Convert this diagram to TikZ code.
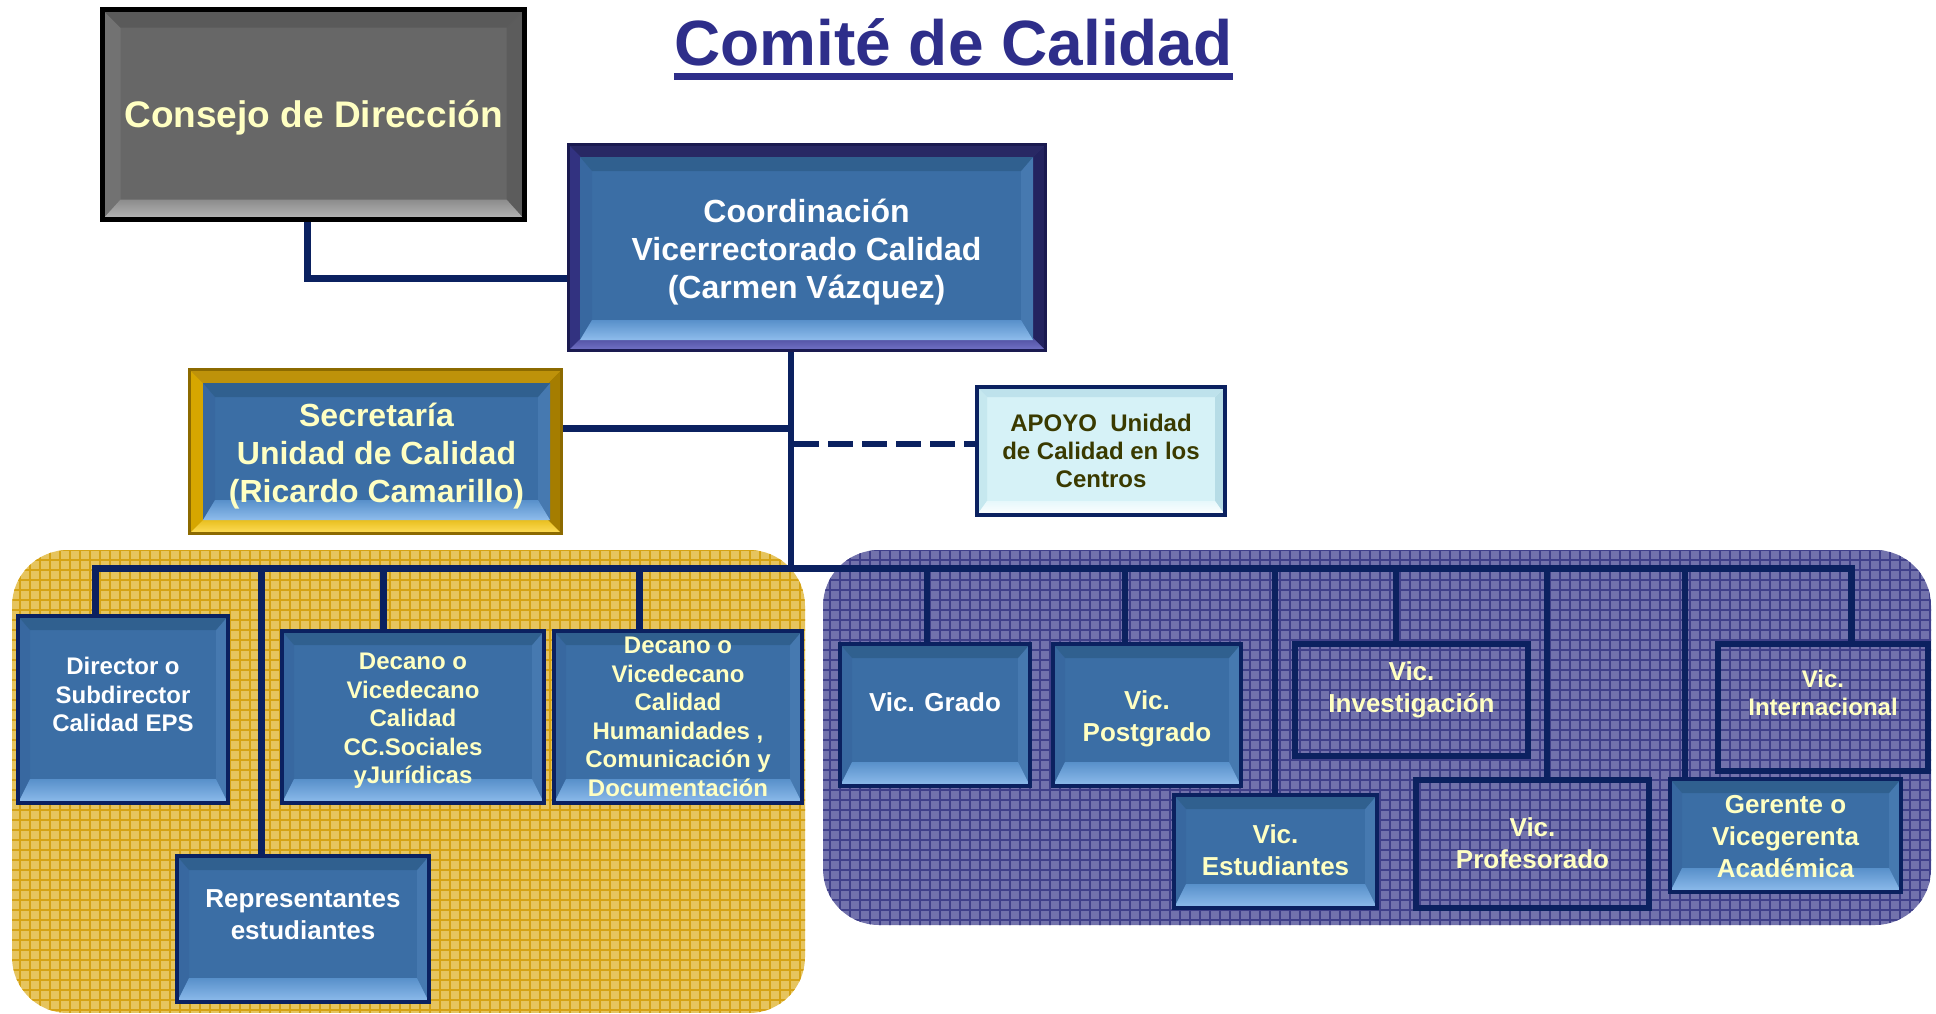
\documentclass[tikz,border=0pt]{standalone}
\usepackage{fontspec}
\setmainfont{Liberation Sans}
\usetikzlibrary{calc}
\definecolor{navy}{HTML}{0B2160}
\definecolor{boxblue}{HTML}{3B6EA5}
\definecolor{bevtop}{HTML}{30608F}
\definecolor{bevleft}{HTML}{3868A0}
\definecolor{bevright}{HTML}{4679B0}
\definecolor{bevbotA}{HTML}{5890CA}
\definecolor{bevbotB}{HTML}{8EBCEC}
\definecolor{paleyel}{HTML}{FFFFC2}
\definecolor{titleblue}{HTML}{2E2E8A}
\definecolor{yelbg}{HTML}{E6C45E}
\definecolor{yelline}{HTML}{D5A214}
\definecolor{purbg}{HTML}{7272AC}
\definecolor{purline}{HTML}{40408A}
\definecolor{apoyofill}{HTML}{D6F2F7}
\definecolor{apoyotext}{HTML}{3A3A00}
\definecolor{grayfill}{HTML}{676767}
\definecolor{graytop}{HTML}{5A5A5A}
\definecolor{graybotA}{HTML}{8C8C8C}
\definecolor{graybotB}{HTML}{B6B6B6}
\definecolor{grayleft}{HTML}{727272}
\definecolor{grayright}{HTML}{5C5C5C}
\definecolor{cframe}{HTML}{2E2E78}
\definecolor{cborder}{HTML}{1A1A50}
\definecolor{ctop}{HTML}{282864}
\definecolor{cbotA}{HTML}{5050A0}
\definecolor{cbotB}{HTML}{7373C8}
\definecolor{cleft}{HTML}{323280}
\definecolor{cright}{HTML}{23235F}
\definecolor{gframe}{HTML}{D0A000}
\definecolor{gborder}{HTML}{8C6A00}
\definecolor{gtop}{HTML}{BE920A}
\definecolor{gbotA}{HTML}{E8BE1E}
\definecolor{gbotB}{HTML}{FFDE5A}
\definecolor{gleft}{HTML}{D6A600}
\definecolor{gright}{HTML}{A57D00}
\definecolor{atop}{HTML}{BEE2EC}
\definecolor{abotA}{HTML}{E6F8FB}
\definecolor{aleft}{HTML}{C6E8EF}
\definecolor{aright}{HTML}{B6DCE6}
\pgfdeclarelayer{bg}
\pgfsetlayers{bg,main}
% bevel: #1 side width, #2 top height, #3 bottom height, #4 top colour, #5 bottom shading, #6 left colour, #7 right colour
\newcommand\bevelfill[7]{%
  \path (path picture bounding box.north west) coordinate (bNW)
        (path picture bounding box.north east) coordinate (bNE)
        (path picture bounding box.south west) coordinate (bSW)
        (path picture bounding box.south east) coordinate (bSE);
  \fill[#6] (bNW) -- ($(bNW)+(#1,-#2)$) -- ($(bSW)+(#1,#3)$) -- (bSW) -- cycle;
  \fill[#7] (bNE) -- ($(bNE)+(-#1,-#2)$) -- ($(bSE)+(-#1,#3)$) -- (bSE) -- cycle;
  \fill[#4] (bNW) -- (bNE) -- ($(bNE)+(-#1,-#2)$) -- ($(bNW)+(#1,-#2)$) -- cycle;
  \shade[#5] (bSW) -- (bSE) -- ($(bSE)+(-#1,#3)$) -- ($(bSW)+(#1,#3)$) -- cycle;
}
% text block moved vertically by #1 without changing its size
\newcommand\lift[2]{\raisebox{#1}[\height][\depth]{\begin{tabular}{@{}c@{}}#2\end{tabular}}}
\begin{document}
\begin{tikzpicture}[x=0.5pt,y=-0.5pt,
  conn/.style={draw=navy, line width=3.5pt, line join=miter},
  bluebox/.style={rectangle, draw=navy, line width=2.2pt, fill=boxblue, inner sep=0pt, align=center,
    text=paleyel, font=\bfseries\fontsize{12}{14.25}\selectfont,
    path picture={\bevelfill{6pt}{7pt}{12pt}{bevtop}{top color=bevbotA,bottom color=bevbotB}{bevleft}{bevright}}},
  bigfont/.style={font=\bfseries\fontsize{13}{16}\selectfont},
  openbox/.style={rectangle, draw=navy, line width=2.6pt, inner sep=0pt, align=center,
    text=paleyel, font=\bfseries\fontsize{13}{16}\selectfont},
  innerblue/.style={rectangle, fill=boxblue, inner sep=0pt, align=center,
    font=\bfseries\fontsize{16}{19}\selectfont,
    path picture={\bevelfill{6pt}{7pt}{10pt}{bevtop}{top color=bevbotA,bottom color=bevbotB}{bevleft}{bevright}}},
  titlestyle/.style={inner sep=0pt, text=titleblue, font=\bfseries\fontsize{32}{38}\selectfont}
]
\useasboundingbox (0,0) rectangle (1936,1013);

% title
\node[titlestyle, anchor=base] (title) at (953.5,65) {Comité de Calidad};
\draw[titleblue, line width=3.5pt] ([yshift=-5.75pt]title.base west) -- ([yshift=-5.75pt]title.base east);

% Consejo de Direccion
\node[rectangle, draw=black, line width=2.5pt, fill=grayfill, inner sep=0pt,
  minimum width=211pt, minimum height=105pt, text=paleyel, font=\bfseries\fontsize{18.5}{22}\selectfont,
  path picture={\bevelfill{9pt}{9pt}{10pt}{graytop}{top color=graybotA,bottom color=graybotB}{grayleft}{grayright}}]
  (consejo) at (313.5,114.5) {\lift{-2pt}{Consejo de Dirección}};

% Coordinacion (frame + inner)
\node[rectangle, draw=cborder, line width=1.5pt, fill=cframe, inner sep=0pt,
  minimum width=238.5pt, minimum height=103pt,
  path picture={\bevelfill{6.5pt}{6.5pt}{6.5pt}{ctop}{top color=cbotA,bottom color=cbotB}{cleft}{cright}}]
  (coord) at (807,247.5) {};
\node[innerblue, text=white, minimum width=226.5pt, minimum height=91.5pt] (coordin) at (806.5,248.5)
  {\lift{-2pt}{Coordinación\\Vicerrectorado Calidad\\(Carmen Vázquez)}};

% Secretaria (frame + inner)
\node[rectangle, draw=gborder, line width=1.2pt, fill=gframe, inner sep=0pt,
  minimum width=186pt, minimum height=82pt,
  path picture={\bevelfill{7pt}{7pt}{7pt}{gtop}{top color=gbotA,bottom color=gbotB}{gleft}{gright}}]
  (secre) at (375.5,451.5) {};
\node[innerblue, text=paleyel, minimum width=173.5pt, minimum height=68.5pt] (secrein) at (376.5,451.5)
  {\lift{-2.5pt}{Secretaría\\Unidad de Calidad\\(Ricardo Camarillo)}};

% Apoyo
\node[rectangle, draw=navy, line width=2pt, fill=apoyofill, inner sep=0pt, align=center,
  minimum width=124pt, minimum height=64pt, text=apoyotext, font=\bfseries\fontsize{12}{14.2}\selectfont,
  path picture={\bevelfill{5pt}{5pt}{7pt}{atop}{top color=abotA,bottom color=white}{aleft}{aright}}]
  (apoyo) at (1101,451) {APOYO\ \ Unidad\\de Calidad en los\\Centros};

% left group boxes
\node[bluebox, text=white, minimum width=105pt, minimum height=93.5pt] (director) at (123,709.5)
  {\lift{6pt}{Director o\\Subdirector\\Calidad EPS}};
\node[bluebox, minimum width=131pt, minimum height=86pt] (decanocc) at (413,717)
  {\lift{-2pt}{Decano o\\Vicedecano\\Calidad\\CC.Sociales\\yJurídicas}};
\node[bluebox, minimum width=124pt, minimum height=86pt] (decanohum) at (678,717)
  {Decano o\\Vicedecano\\Calidad\\Humanidades ,\\Comunicación y\\Documentación};
\node[bluebox, bigfont, text=white, minimum width=126pt, minimum height=73pt] (repres) at (303,929)
  {\lift{6pt}{Representantes\\estudiantes}};

% right group boxes
\node[bluebox, bigfont, text=white, minimum width=95pt, minimum height=71pt] (grado) at (935,715)
  {\lift{5pt}{Vic. Grado}};
\node[bluebox, bigfont, minimum width=94pt, minimum height=71pt] (postgrado) at (1147,715)
  {\lift{-2pt}{Vic.\\Postgrado}};
\node[bluebox, bigfont, minimum width=101.5pt, minimum height=56.5pt] (estud) at (1275.5,851.5)
  {\lift{-1pt}{Vic.\\Estudiantes}};
\node[openbox, minimum width=116.5pt, minimum height=56pt] (invest) at (1411.5,700)
  {\lift{5pt}{Vic.\\Investigación}};
\node[openbox, minimum width=116.5pt, minimum height=64pt] (profes) at (1532.5,844)
  {\lift{-1pt}{Vic.\\Profesorado}};
\node[bluebox, bigfont, minimum width=115.5pt, minimum height=56.5pt] (gerente) at (1785.5,835.5)
  {\lift{-2pt}{Gerente o\\Vicegerenta\\Académica}};
\node[openbox, font=\bfseries\fontsize{12}{14}\selectfont, minimum width=105pt, minimum height=63.5pt] (internac) at (1823,707.5)
  {\lift{6pt}{Vic.\\Internacional}};

% junction coordinates
\coordinate (jc) at (307,278);
\coordinate (tr) at (791,568);
\coordinate (sj) at (791,428);
\coordinate (dj) at (794,444);
\coordinate (d1) at (95,568);
\coordinate (d2) at (261,568);
\coordinate (d3) at (383,568);
\coordinate (d4) at (639,568);
\coordinate (d5) at (927,568);
\coordinate (d6) at (1125,568);
\coordinate (d7) at (1275,568);
\coordinate (d8) at (1396,568);
\coordinate (d9) at (1547,568);
\coordinate (d10) at (1685,568);
\coordinate (d11) at (1851,568);

\begin{pgfonlayer}{bg}
  \fill[white] (0,0) rectangle (1936,1013);
  % yellow region
  \begin{scope}
    \clip[rounded corners=28pt] (12,550) rectangle (805,1013);
    \fill[yelbg] (0,540) rectangle (820,1013);
    \draw[yelline, line width=0.7pt, step=5pt] (0,540) grid (820,1013);
  \end{scope}
  % purple region
  \begin{scope}
    \clip[rounded corners=28pt] (823,550) rectangle (1931,925);
    \fill[purbg] (820,540) rectangle (1936,930);
    \draw[purline, line width=0.6pt, step=5pt] (820,540) grid (1936,930);
  \end{scope}
  % connectors
  \draw[conn] (consejo.south -| jc) |- (coord.west |- jc);
  \draw[conn, line width=3pt] (coord.south -| tr) -- (tr);
  \draw[conn] (secre.east |- sj) -- (sj);
  \draw[conn, line width=3pt, dash pattern=on 12.5pt off 4.5pt] (dj) -- (apoyo.west |- dj);
  \draw[conn] (director.north -| d1) -- (d1) -- (d11) -- (internac.north -| d11);
  \draw[conn] (d2) -- (repres.north -| d2);
  \draw[conn] (d3) -- (decanocc.north -| d3);
  \draw[conn] (d4) -- (decanohum.north -| d4);
  \draw[conn, line width=3pt] (d5) -- (grado.north -| d5);
  \draw[conn, line width=3pt] (d6) -- (postgrado.north -| d6);
  \draw[conn, line width=3pt] (d7) -- (estud.north -| d7);
  \draw[conn, line width=3pt] (d8) -- (invest.north -| d8);
  \draw[conn, line width=3pt] (d9) -- (profes.north -| d9);
  \draw[conn, line width=3pt] (d10) -- (gerente.north -| d10);
\end{pgfonlayer}
\end{tikzpicture}
\end{document}
